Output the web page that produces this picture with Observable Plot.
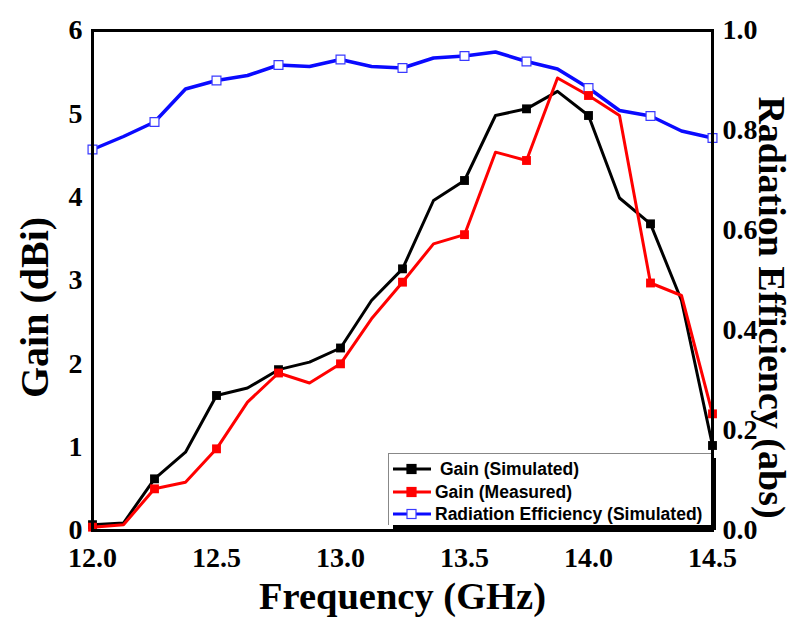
<!DOCTYPE html>
<html>
<head>
<meta charset="utf-8">
<script src="https://cdn.jsdelivr.net/npm/d3@7"></script>
<script src="https://cdn.jsdelivr.net/npm/@observablehq/plot@0.6"></script>
<style>
  body { margin: 0; background: #fff; }
  #wrap { position: relative; width: 796px; height: 621px; overflow: hidden; }
  #legend { position: absolute; left: 388px; top: 453px; width: 322px; height: 71px;
    background: #fff; border-top: 1px solid #888; border-left: 1px solid #888;
    box-shadow: 5px 5px 0 #000; font-family: "Liberation Sans", Arial, sans-serif;
    font-weight: bold; font-size: 17.5px; color: #000; }
  .row { position: absolute; left: 4px; height: 20px; display: flex; align-items: center; white-space: nowrap; }
  .row svg { margin-right: 4px; }
</style>
</head>
<body>
<div id="wrap"></div>
<script>
const freq = [12.0, 12.125, 12.25, 12.375, 12.5, 12.625, 12.75, 12.875, 13.0, 13.125, 13.25, 13.375, 13.5, 13.625, 13.75, 13.875, 14.0, 14.125, 14.25, 14.375, 14.5];
const gainSim = [0.07, 0.09, 0.62, 0.94, 1.62, 1.71, 1.93, 2.02, 2.19, 2.76, 3.14, 3.96, 4.2, 4.98, 5.06, 5.27, 4.98, 3.99, 3.68, 2.76, 1.02];
const gainMeas = [0.04, 0.07, 0.5, 0.58, 0.98, 1.54, 1.89, 1.77, 2.0, 2.54, 2.98, 3.44, 3.55, 4.54, 4.44, 5.43, 5.22, 4.98, 2.97, 2.82, 1.4];
const radEff = [0.762, 0.788, 0.817, 0.883, 0.90, 0.91, 0.931, 0.928, 0.942, 0.928, 0.925, 0.945, 0.949, 0.957, 0.938, 0.923, 0.885, 0.84, 0.829, 0.799, 0.785];
const xTicks = [12.0, 12.5, 13.0, 13.5, 14.0, 14.5];
const gainTicks = [0, 1, 2, 3, 4, 5, 6];
const effTicks = [0.0, 0.2, 0.4, 0.6, 0.8, 1.0];
const legendLabels = ["Gain (Simulated)", "Gain (Measured)", "Radiation Efficiency (Simulated)"];

const EFF_SCALE = 6; // efficiency 0..1 mapped onto gain 0..6
const rows = (vals, k) => freq.map((f, i) => ({f, v: vals[i] * k, i}));
const sim = rows(gainSim, 1), meas = rows(gainMeas, 1), eff = rows(radEff, EFF_SCALE);
const marked = d => d.filter(p => p.i % 2 === 0);

const serif = "'Liberation Serif', 'Times New Roman', serif";
const chart = Plot.plot({
  width: 796, height: 621,
  marginLeft: 92, marginRight: 84, marginTop: 30, marginBottom: 91,
  style: { fontFamily: serif, fontWeight: "bold", fontSize: "28px", background: "#fff", overflow: "visible" },
  x: { domain: [12, 14.5] },
  y: { domain: [0, 6] },
  marks: [
    Plot.line(eff, {x: "f", y: "v", stroke: "#0a0aff", strokeWidth: 3.5}),
    Plot.line(sim, {x: "f", y: "v", stroke: "#000", strokeWidth: 3}),
    Plot.line(meas, {x: "f", y: "v", stroke: "#ff0000", strokeWidth: 3}),
    Plot.dot(marked(eff), {x: "f", y: "v", symbol: "square", r: 5, fill: "#fff", stroke: "#3a3aff", strokeWidth: 1.2}),
    Plot.dot(marked(sim), {x: "f", y: "v", symbol: "square", r: 5, fill: "#000"}),
    Plot.dot(marked(meas), {x: "f", y: "v", symbol: "square", r: 5, fill: "#ff0000"}),
    Plot.axisX({ticks: xTicks, tickSize: 0, tickPadding: 17, tickFormat: d3.format(".1f"), label: null}),
    Plot.axisY({ticks: gainTicks, tickSize: 0, tickPadding: 10, tickFormat: d3.format("d"), label: null}),
    Plot.axisY({anchor: "right", ticks: effTicks.map(t => t * EFF_SCALE), tickSize: 0, tickPadding: 10,
      tickFormat: (d) => (d / EFF_SCALE).toFixed(1), label: null}),
    Plot.text(["Gain (dBi)"], {frameAnchor: "left", textAnchor: "middle", dx: -57, dy: 27, rotate: -90, fontSize: 40, fontWeight: "bold"}),
    Plot.text(["Radiation Efficiency (abs)"], {frameAnchor: "right", textAnchor: "middle", dx: 59, dy: 27, rotate: 90, fontSize: 38, fontWeight: "bold"}),
    Plot.text(["Frequency (GHz)"], {frameAnchor: "bottom", textAnchor: "middle", dy: 78, fontSize: 38.5, fontWeight: "bold"}),
    Plot.frame({stroke: "#000", strokeWidth: 3})
  ]
});
const wrap = document.getElementById("wrap");
wrap.appendChild(chart);

// Legend
const legend = document.createElement("div");
legend.id = "legend";
const legendStyles = [
  {stroke: "#000", fill: "#000", mstroke: "#000"},
  {stroke: "#ff0000", fill: "#ff0000", mstroke: "#ff0000"},
  {stroke: "#0a0aff", fill: "#fff", mstroke: "#3a3aff"}
];
const rowTops = [5, 28, 50];
legendLabels.forEach((lab, i) => {
  const s = legendStyles[i];
  const row = document.createElement("div");
  row.className = "row";
  row.style.top = rowTops[i] + "px";
  row.innerHTML = `<svg width="38" height="12"><line x1="0" y1="6" x2="38" y2="6" stroke="${s.stroke}" stroke-width="3"/><rect x="14" y="1.5" width="9" height="9" fill="${s.fill}" stroke="${s.mstroke}" stroke-width="1.2"/></svg><span style="margin-left:${i===0?5:0}px">${lab}</span>`;
  legend.appendChild(row);
});
wrap.appendChild(legend);
</script>
</body>
</html>
